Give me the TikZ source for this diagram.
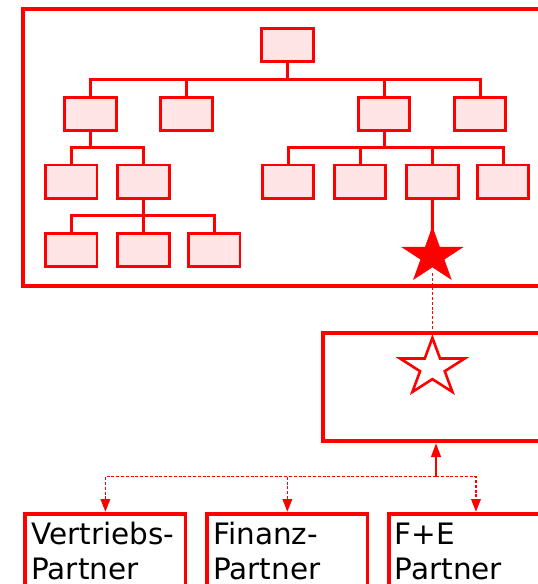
\documentclass[tikz,border=0pt]{standalone}
\usepackage{fontspec}
\setmainfont{DejaVu Sans}
\usetikzlibrary{shapes.geometric,arrows.meta}
\begin{document}
\begin{tikzpicture}[scale=0.3515]
\tikzstyle{every node}+=[inner sep=0pt]
\tikzstyle{orgbox}=[draw=red, fill=red!10, line width=2.8pt, minimum width=51.7pt, minimum height=33.2pt]
\tikzstyle{orgline}=[draw=red, line width=3pt]
\tikzstyle{frame}=[draw=red, line width=3.8pt]
\tikzstyle{partner}=[frame, anchor=north west, minimum height=100pt]
\tikzstyle{partnertext}=[anchor=base west, font=\fontsize{29.5}{35}\selectfont]
\tikzstyle{linkline}=[draw=red, line width=1.4pt, dash pattern=on 3pt off 1.8pt]
\useasboundingbox (0,0) rectangle (53.8,-58.4);
%\draw[help lines] (0,0) grid (54,-58);
\draw [frame] (2.3,-0.9) rectangle (56,-28.63);
\node [orgbox] (root) at (28.77,-4.5) {};
\node [orgbox] (l1) at (9.07,-11.37) {};
\node [orgbox] (l2) at (18.65,-11.37) {};
\node [orgbox] (l3) at (38.4,-11.37) {};
\node [orgbox] (l4) at (48.0,-11.37) {};
\node [orgbox] (l11) at (7.12,-18.15) {};
\node [orgbox] (l12) at (14.35,-18.15) {};
\node [orgbox] (l31) at (28.8,-18.15) {};
\node [orgbox] (l32) at (36.0,-18.15) {};
\node [orgbox] (l33) at (43.24,-18.15) {};
\node [orgbox] (l34) at (50.3,-18.15) {};
\node [orgbox] (l121) at (7.12,-24.97) {};
\node [orgbox] (l122) at (14.35,-24.97) {};
\node [orgbox] (l123) at (21.42,-24.97) {};
\foreach \c in {l1,l2,l3,l4}
  \draw [orgline] (root.south) -- ++(0,-1.66) -| (\c.north);
\foreach \c in {l11,l12}
  \draw [orgline] (l1.south) -- ++(0,-1.6) -| (\c.north);
\foreach \c in {l31,l32,l33,l34}
  \draw [orgline] (l3.south) -- ++(0,-1.6) -| (\c.north);
\foreach \c in {l121,l122,l123}
  \draw [orgline] (l12.south) -- ++(0,-1.63) -| (\c.north);
\draw [orgline] (l33.south) -- (43.24,-24);
\node [star, star points=5, star point ratio=2.618, minimum size=64pt, yscale=0.9, draw=red, fill=red, line width=0.5pt] (fstar) at (43.24,-25.6) {};
\node [frame, anchor=north west, minimum width=237.3pt, minimum height=108.3pt] (team) at (32.105,-33.105) {};
\node [star, star points=5, star point ratio=2.618, minimum size=68pt, yscale=0.88, draw=red, fill=white, line width=2.6pt] (ostar) at (43.24,-36.77) {};
\draw [linkline] (fstar.center) ++(0,-1.7) -- (ostar.north);
\node [partner, minimum width=160.4pt] (vp) at (2.33,-51.17) {};
\node [partner, minimum width=160.5pt] (fp) at (20.52,-51.17) {};
\node [partner, minimum width=174.7pt] (fe) at (38.67,-51.17) {};
\node [partnertext] (vpt) at (3.12,-54.4) {\begin{tabular}[t]{@{}l@{}}Vertriebs-\\Partner\end{tabular}};
\node [partnertext] (fpt) at (21.31,-54.4) {\begin{tabular}[t]{@{}l@{}}Finanz-\\Partner\end{tabular}};
\node [partnertext] (fet) at (39.46,-54.4) {\begin{tabular}[t]{@{}l@{}}F+E\\Partner\end{tabular}};
\coordinate (hub) at (43.6,-47.67);
\draw [red, line width=1.5pt, -{Triangle[width=10pt,length=14pt]}] (hub) -- (hub |- team.south);
\foreach \p in {vp,fp,fe}
  \draw [linkline, -{Triangle[width=9.5pt,length=12.5pt]}] (hub) -| (\p.north);
\end{tikzpicture}
\end{document}
